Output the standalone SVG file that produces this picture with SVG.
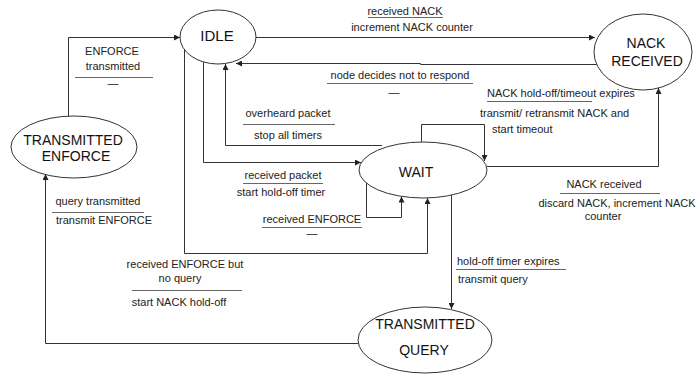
<svg xmlns="http://www.w3.org/2000/svg" width="697" height="374" viewBox="0 0 697 374">
  <defs>
    <marker id="arrow" viewBox="0 0 10 10" refX="10" refY="5" markerWidth="7" markerHeight="6" orient="auto" markerUnits="userSpaceOnUse">
      <path d="M0,0 L10,5 L0,10 z" fill="#222"/>
    </marker>
    <style>
      .state { fill: #fff; stroke: #333; stroke-width: 1; }
      .state-label { font-family: "Liberation Sans", Arial, sans-serif; font-size: 14px; fill: #111; text-anchor: middle; }
      .edge { fill: none; stroke: #333; stroke-width: 1; marker-end: url(#arrow); }
      .edge-plain { fill: none; stroke: #333; stroke-width: 1; }
      .lbl { font-family: "Liberation Sans", Arial, sans-serif; font-size: 11px; fill: #222; }
      .mid { text-anchor: middle; }
      .bar { stroke: #666; stroke-width: 1; }
    </style>
  </defs>

  <rect width="697" height="374" fill="#fff"/>

  <!-- transitions -->
  <g id="connectors">
    <!-- TRANSMITTED ENFORCE -> IDLE -->
    <path class="edge" d="M68.5,116 V37.5 H180"/>
    <!-- IDLE -> NACK RECEIVED -->
    <path class="edge" d="M256,37.5 H595"/>
    <!-- NACK RECEIVED -> IDLE -->
    <path class="edge" d="M597,64.5 H420.5 V63.5 H236"/>
    <!-- IDLE -> WAIT (received packet) -->
    <path class="edge" d="M203.5,62 V162.5 H361"/>
    <!-- WAIT -> IDLE (overheard packet) -->
    <path class="edge" d="M382,145.5 H225.5 V64"/>
    <!-- IDLE -> WAIT (received ENFORCE but no query) -->
    <path class="edge" d="M184.5,49 V253.5 H427.5 V198"/>
    <!-- WAIT self loop (NACK hold-off/timeout expires) -->
    <path class="edge" d="M421.5,142 V124.5 H484.5 V161"/>
    <!-- WAIT self loop (received ENFORCE) -->
    <path class="edge" d="M366.5,183 V217.5 H401.5 V196.5"/>
    <!-- WAIT -> NACK RECEIVED -->
    <path class="edge" d="M487,166.5 H658.5 V88"/>
    <!-- WAIT -> TRANSMITTED QUERY -->
    <path class="edge" d="M451.5,195 V309"/>
    <!-- TRANSMITTED QUERY -> TRANSMITTED ENFORCE -->
    <path class="edge" d="M358,343.5 H45.5 V174"/>
  </g>

  <!-- states -->
  <g id="idle">
    <ellipse class="state" cx="218" cy="37" rx="38" ry="27"/>
    <text class="state-label" x="217" y="41" style="font-size:15px">IDLE</text>
  </g>
  <g id="nack-received">
    <ellipse class="state" cx="643" cy="52" rx="49" ry="38"/>
    <text class="state-label" x="646" y="48">NACK</text>
    <text class="state-label" x="647" y="66">RECEIVED</text>
  </g>
  <g id="transmitted-enforce">
    <ellipse class="state" cx="74" cy="147" rx="63" ry="31"/>
    <text class="state-label" x="73" y="145">TRANSMITTED</text>
    <text class="state-label" x="76" y="161">ENFORCE</text>
  </g>
  <g id="wait">
    <ellipse class="state" cx="423" cy="170" rx="64" ry="28"/>
    <text class="state-label" x="416" y="177">WAIT</text>
  </g>
  <g id="transmitted-query">
    <ellipse class="state" cx="425" cy="340" rx="67" ry="33"/>
    <text class="state-label" x="425" y="329">TRANSMITTED</text>
    <text class="state-label" x="424" y="355">QUERY</text>
  </g>

  <!-- transition labels -->
  <g id="labels">
    <!-- TRANSMITTED ENFORCE -> IDLE -->
    <text class="lbl mid" x="112" y="55">ENFORCE</text>
    <text class="lbl mid" x="113" y="70">transmitted</text>
    <line class="bar" x1="75" y1="77.5" x2="153" y2="77.5"/>
    <text class="lbl mid" x="113" y="87">—</text>

    <!-- IDLE -> NACK RECEIVED -->
    <text class="lbl mid" x="405" y="15">received NACK</text>
    <line class="bar" x1="368" y1="17.5" x2="443" y2="17.5"/>
    <text class="lbl mid" x="412" y="31">increment NACK counter</text>

    <!-- NACK RECEIVED -> IDLE -->
    <text class="lbl mid" x="400" y="79">node decides not to respond</text>
    <line class="bar" x1="327" y1="83.5" x2="473" y2="83.5"/>
    <text class="lbl mid" x="394" y="96">—</text>

    <!-- WAIT -> IDLE -->
    <text class="lbl mid" x="288" y="117">overheard packet</text>
    <line class="bar" x1="243" y1="124.5" x2="335" y2="124.5"/>
    <text class="lbl mid" x="288" y="139">stop all timers</text>

    <!-- IDLE -> WAIT -->
    <text class="lbl mid" x="283" y="179">received packet</text>
    <line class="bar" x1="243" y1="183.5" x2="323" y2="183.5"/>
    <text class="lbl mid" x="281" y="196">start hold-off timer</text>

    <!-- WAIT self loop (bottom) -->
    <text class="lbl mid" x="312" y="223">received ENFORCE</text>
    <line class="bar" x1="262" y1="227.5" x2="362" y2="227.5"/>
    <text class="lbl mid" x="312" y="237">—</text>

    <!-- WAIT self loop (top) -->
    <text class="lbl" x="487" y="97">NACK hold-off/timeout expires</text>
    <line class="bar" x1="487" y1="101.5" x2="592" y2="101.5"/>
    <text class="lbl" x="480" y="117">transmit/ retransmit NACK and</text>
    <text class="lbl" x="492" y="133">start timeout</text>

    <!-- WAIT -> NACK RECEIVED -->
    <text class="lbl mid" x="604" y="188">NACK received</text>
    <line class="bar" x1="560" y1="193.5" x2="660" y2="193.5"/>
    <text class="lbl mid" x="617" y="207">discard NACK, increment NACK</text>
    <text class="lbl mid" x="603" y="220">counter</text>

    <!-- WAIT -> TRANSMITTED QUERY -->
    <text class="lbl" x="457" y="265">hold-off timer expires</text>
    <line class="bar" x1="456" y1="269.5" x2="566" y2="269.5"/>
    <text class="lbl" x="458" y="283">transmit query</text>

    <!-- TRANSMITTED QUERY -> TRANSMITTED ENFORCE -->
    <text class="lbl mid" x="98" y="205">query transmitted</text>
    <line class="bar" x1="52" y1="212.5" x2="144" y2="212.5"/>
    <text class="lbl mid" x="104" y="224">transmit ENFORCE</text>

    <!-- IDLE -> WAIT (received ENFORCE but no query) -->
    <text class="lbl mid" x="185" y="268">received ENFORCE but</text>
    <text class="lbl mid" x="180" y="282">no query</text>
    <line class="bar" x1="132" y1="290.5" x2="242" y2="290.5"/>
    <text class="lbl mid" x="179" y="306">start NACK hold-off</text>
  </g>
</svg>
